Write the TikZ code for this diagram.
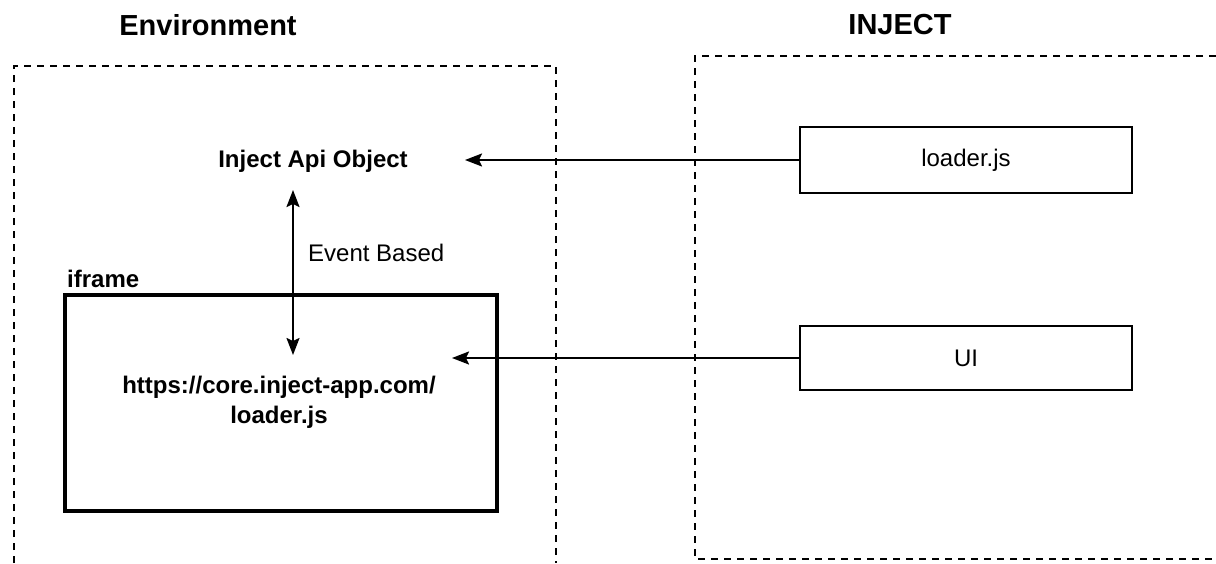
\documentclass[tikz,border=0pt]{standalone}
\usepackage{fontspec}
\setmainfont{Liberation Sans}
\usetikzlibrary{arrows.meta}
\begin{document}
\begin{tikzpicture}[x=1pt,y=-1pt,
  >={Stealth[length=17pt,width=13pt,inset=3pt]},
  txt/.style={font=\fontsize{24}{29}\selectfont, inner sep=0pt},
  btxt/.style={font=\fontsize{24}{30}\selectfont\bfseries, inner sep=0pt, align=center},
  title/.style={font=\fontsize{29}{34}\selectfont\bfseries, inner sep=0pt},
  jsbox/.style={draw, line width=2pt, minimum width=332pt, minimum height=66pt, inner sep=0pt, font=\fontsize{24}{29}\selectfont},
  framebox/.style={draw, line width=4.5pt, minimum width=432pt, minimum height=216pt, inner sep=0pt},
  zone/.style={dash pattern=on 7pt off 6pt, line width=2pt},
  conn/.style={line width=2pt, ->},
  dconn/.style={line width=2pt, <->},
]
\useasboundingbox (0,0) rectangle (1216,563);

% zones
\draw[zone] (14,563) -- (14,66) -- (556,66) -- (556,563);
\draw[zone] (1216,56) -- (695,56) -- (695,559) -- (1216,559);

% titles
\node[title] (env) at (208,25) {Environment};
\node[title] (inj) at (900,25) {INJECT};

% nodes
\node[btxt] (api) at (313,161) {Inject Api Object};
\node[jsbox] (loader) at (966,160) {loader.js};
\node[jsbox, minimum height=64pt] (ui) at (966,358) {UI};
\node[framebox] (iframe) at (281,403) {};
\node[btxt, anchor=base west] (iflabel) at (67,287) {iframe};
\node[btxt] (url) at (279,402) {https://core.inject-app.com/\\loader.js};
\node[txt, anchor=west] (event) at (308,253) {Event Based};

% connectors
\coordinate (apiin) at (465,160);
\coordinate (urlin) at (452,358);
\coordinate (evtop) at (293,190);
\coordinate (evbot) at (293,355);
\draw[conn] (loader.west) -- (apiin);
\draw[conn] (ui.west) -- (urlin);
\draw[dconn] (evbot) -- (evtop);
\end{tikzpicture}
\end{document}
